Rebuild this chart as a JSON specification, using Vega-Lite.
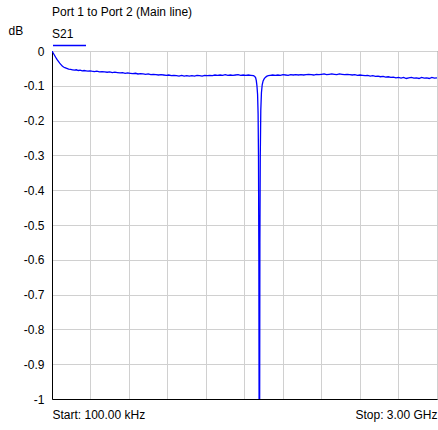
{
  "$schema": "https://vega.github.io/schema/vega-lite/v6.json",
  "width": 385,
  "height": 348,
  "autosize": {"type": "none"},
  "padding": {"left": 52, "top": 51, "right": 1, "bottom": 31},
  "background": "white",
  "title": {
    "text": "Port 1 to Port 2 (Main line)",
    "anchor": "start",
    "frame": "group",
    "fontSize": 12,
    "fontWeight": "normal",
    "font": "Liberation Sans",
    "color": "black",
    "offset": 5
  },
  "config": {
    "view": {"stroke": "#555555", "strokeWidth": 1},
    "font": "Liberation Sans"
  },
  "data": {
    "values": [
      {"f": 0.0001, "dB": 0},
      {"f": 0.008, "dB": -0.005},
      {"f": 0.016, "dB": -0.010},
      {"f": 0.024, "dB": -0.015},
      {"f": 0.032, "dB": -0.020},
      {"f": 0.040, "dB": -0.025},
      {"f": 0.050, "dB": -0.030},
      {"f": 0.060, "dB": -0.035},
      {"f": 0.070, "dB": -0.039},
      {"f": 0.080, "dB": -0.043},
      {"f": 0.090, "dB": -0.046},
      {"f": 0.100, "dB": -0.048},
      {"f": 0.115, "dB": -0.050},
      {"f": 0.130, "dB": -0.052},
      {"f": 0.145, "dB": -0.053},
      {"f": 0.160, "dB": -0.054},
      {"f": 0.175, "dB": -0.055},
      {"f": 0.190, "dB": -0.054},
      {"f": 0.205, "dB": -0.056},
      {"f": 0.220, "dB": -0.055},
      {"f": 0.235, "dB": -0.057},
      {"f": 0.250, "dB": -0.056},
      {"f": 0.265, "dB": -0.057},
      {"f": 0.280, "dB": -0.058},
      {"f": 0.295, "dB": -0.057},
      {"f": 0.310, "dB": -0.058},
      {"f": 0.330, "dB": -0.059},
      {"f": 0.350, "dB": -0.058},
      {"f": 0.370, "dB": -0.060},
      {"f": 0.390, "dB": -0.059},
      {"f": 0.410, "dB": -0.060},
      {"f": 0.430, "dB": -0.061},
      {"f": 0.450, "dB": -0.060},
      {"f": 0.470, "dB": -0.062},
      {"f": 0.490, "dB": -0.061},
      {"f": 0.510, "dB": -0.062},
      {"f": 0.530, "dB": -0.063},
      {"f": 0.550, "dB": -0.062},
      {"f": 0.570, "dB": -0.064},
      {"f": 0.590, "dB": -0.063},
      {"f": 0.610, "dB": -0.064},
      {"f": 0.630, "dB": -0.065},
      {"f": 0.650, "dB": -0.064},
      {"f": 0.670, "dB": -0.066},
      {"f": 0.690, "dB": -0.065},
      {"f": 0.710, "dB": -0.066},
      {"f": 0.730, "dB": -0.067},
      {"f": 0.750, "dB": -0.066},
      {"f": 0.770, "dB": -0.068},
      {"f": 0.790, "dB": -0.067},
      {"f": 0.810, "dB": -0.068},
      {"f": 0.830, "dB": -0.069},
      {"f": 0.850, "dB": -0.068},
      {"f": 0.870, "dB": -0.069},
      {"f": 0.890, "dB": -0.070},
      {"f": 0.910, "dB": -0.069},
      {"f": 0.930, "dB": -0.071},
      {"f": 0.950, "dB": -0.070},
      {"f": 0.970, "dB": -0.071},
      {"f": 0.990, "dB": -0.072},
      {"f": 1.010, "dB": -0.070},
      {"f": 1.030, "dB": -0.072},
      {"f": 1.050, "dB": -0.071},
      {"f": 1.070, "dB": -0.072},
      {"f": 1.090, "dB": -0.071},
      {"f": 1.110, "dB": -0.072},
      {"f": 1.130, "dB": -0.070},
      {"f": 1.150, "dB": -0.071},
      {"f": 1.170, "dB": -0.072},
      {"f": 1.190, "dB": -0.070},
      {"f": 1.210, "dB": -0.071},
      {"f": 1.230, "dB": -0.070},
      {"f": 1.250, "dB": -0.071},
      {"f": 1.270, "dB": -0.069},
      {"f": 1.290, "dB": -0.070},
      {"f": 1.310, "dB": -0.069},
      {"f": 1.330, "dB": -0.070},
      {"f": 1.350, "dB": -0.068},
      {"f": 1.370, "dB": -0.070},
      {"f": 1.390, "dB": -0.069},
      {"f": 1.410, "dB": -0.070},
      {"f": 1.430, "dB": -0.069},
      {"f": 1.450, "dB": -0.068},
      {"f": 1.470, "dB": -0.070},
      {"f": 1.490, "dB": -0.069},
      {"f": 1.510, "dB": -0.070},
      {"f": 1.530, "dB": -0.069},
      {"f": 1.550, "dB": -0.070},
      {"f": 1.570, "dB": -0.071},
      {"f": 1.580, "dB": -0.073},
      {"f": 1.587, "dB": -0.077},
      {"f": 1.592, "dB": -0.085},
      {"f": 1.597, "dB": -0.100},
      {"f": 1.602, "dB": -0.125},
      {"f": 1.606, "dB": -0.180},
      {"f": 1.609, "dB": -0.300},
      {"f": 1.612, "dB": -0.600},
      {"f": 1.6145, "dB": -1.2},
      {"f": 1.6175, "dB": -1.2},
      {"f": 1.620, "dB": -0.550},
      {"f": 1.623, "dB": -0.300},
      {"f": 1.627, "dB": -0.170},
      {"f": 1.632, "dB": -0.120},
      {"f": 1.638, "dB": -0.097},
      {"f": 1.645, "dB": -0.086},
      {"f": 1.653, "dB": -0.080},
      {"f": 1.662, "dB": -0.076},
      {"f": 1.672, "dB": -0.073},
      {"f": 1.685, "dB": -0.071},
      {"f": 1.700, "dB": -0.070},
      {"f": 1.720, "dB": -0.069},
      {"f": 1.740, "dB": -0.070},
      {"f": 1.760, "dB": -0.069},
      {"f": 1.780, "dB": -0.070},
      {"f": 1.800, "dB": -0.068},
      {"f": 1.820, "dB": -0.069},
      {"f": 1.840, "dB": -0.070},
      {"f": 1.860, "dB": -0.068},
      {"f": 1.880, "dB": -0.069},
      {"f": 1.900, "dB": -0.068},
      {"f": 1.920, "dB": -0.069},
      {"f": 1.940, "dB": -0.068},
      {"f": 1.960, "dB": -0.069},
      {"f": 1.980, "dB": -0.068},
      {"f": 2.000, "dB": -0.067},
      {"f": 2.020, "dB": -0.068},
      {"f": 2.040, "dB": -0.069},
      {"f": 2.060, "dB": -0.067},
      {"f": 2.080, "dB": -0.068},
      {"f": 2.100, "dB": -0.067},
      {"f": 2.120, "dB": -0.066},
      {"f": 2.140, "dB": -0.068},
      {"f": 2.160, "dB": -0.067},
      {"f": 2.180, "dB": -0.066},
      {"f": 2.200, "dB": -0.067},
      {"f": 2.220, "dB": -0.068},
      {"f": 2.240, "dB": -0.066},
      {"f": 2.260, "dB": -0.067},
      {"f": 2.280, "dB": -0.068},
      {"f": 2.300, "dB": -0.067},
      {"f": 2.320, "dB": -0.068},
      {"f": 2.340, "dB": -0.069},
      {"f": 2.360, "dB": -0.068},
      {"f": 2.380, "dB": -0.070},
      {"f": 2.400, "dB": -0.069},
      {"f": 2.420, "dB": -0.070},
      {"f": 2.440, "dB": -0.071},
      {"f": 2.460, "dB": -0.070},
      {"f": 2.480, "dB": -0.072},
      {"f": 2.500, "dB": -0.071},
      {"f": 2.520, "dB": -0.073},
      {"f": 2.540, "dB": -0.072},
      {"f": 2.560, "dB": -0.074},
      {"f": 2.580, "dB": -0.073},
      {"f": 2.600, "dB": -0.075},
      {"f": 2.620, "dB": -0.074},
      {"f": 2.640, "dB": -0.076},
      {"f": 2.660, "dB": -0.075},
      {"f": 2.680, "dB": -0.077},
      {"f": 2.700, "dB": -0.076},
      {"f": 2.720, "dB": -0.078},
      {"f": 2.740, "dB": -0.076},
      {"f": 2.760, "dB": -0.079},
      {"f": 2.780, "dB": -0.077},
      {"f": 2.800, "dB": -0.076},
      {"f": 2.820, "dB": -0.078},
      {"f": 2.840, "dB": -0.077},
      {"f": 2.860, "dB": -0.079},
      {"f": 2.880, "dB": -0.076},
      {"f": 2.900, "dB": -0.078},
      {"f": 2.920, "dB": -0.077},
      {"f": 2.940, "dB": -0.079},
      {"f": 2.960, "dB": -0.076},
      {"f": 2.980, "dB": -0.078},
      {"f": 3.000, "dB": -0.077}
    ]
  },
  "mark": {"type": "line", "clip": true, "strokeWidth": 1.3, "interpolate": "linear"},
  "encoding": {
    "x": {
      "field": "f",
      "type": "quantitative",
      "scale": {"domain": [0.0001, 3], "nice": false, "zero": false},
      "axis": {
        "title": null,
        "values": [0.0001, 0.3, 0.6, 0.9, 1.2, 1.5, 1.8, 2.1, 2.4, 2.7, 3],
        "labelExpr": "datum.value < 0.01 ? 'Start: 100.00 kHz' : (datum.value > 2.99 ? 'Stop: 3.00 GHz' : '')",
        "labelFlush": true,
        "labelOverlap": false,
        "labelFontSize": 12,
        "labelColor": "black",
        "labelPadding": 10,
        "ticks": false,
        "grid": true,
        "gridColor": "#d0d0d0",
        "gridWidth": 1,
        "domainColor": "black",
        "domainWidth": 1
      }
    },
    "y": {
      "field": "dB",
      "type": "quantitative",
      "scale": {"domain": [-1, 0], "nice": false, "zero": false},
      "axis": {
        "title": "dB",
        "titleAngle": 0,
        "titleAlign": "left",
        "titleBaseline": "middle",
        "titleX": -44,
        "titleY": -21,
        "titleFontSize": 12,
        "titleFontWeight": "normal",
        "titleColor": "black",
        "values": [0, -0.1, -0.2, -0.3, -0.4, -0.5, -0.6, -0.7, -0.8, -0.9, -1],
        "labelExpr": "'' + datum.value",
        "labelFontSize": 12,
        "labelColor": "black",
        "labelPadding": 8,
        "ticks": false,
        "grid": true,
        "gridColor": "#d0d0d0",
        "gridWidth": 1,
        "domainColor": "black",
        "domainWidth": 1
      }
    },
    "color": {
      "datum": "S21",
      "type": "nominal",
      "scale": {"range": ["#0000ff"]},
      "legend": {
        "orient": "none",
        "legendX": 0,
        "legendY": -22,
        "title": "S21",
        "titleFontSize": 12,
        "titleFontWeight": "normal",
        "titleColor": "black",
        "titlePadding": -2,
        "padding": 0,
        "labelExpr": "''",
        "symbolType": "M-1,0H5",
        "symbolSize": 121,
        "symbolStrokeWidth": 1.5,
        "symbolOffset": 0
      }
    }
  }
}
